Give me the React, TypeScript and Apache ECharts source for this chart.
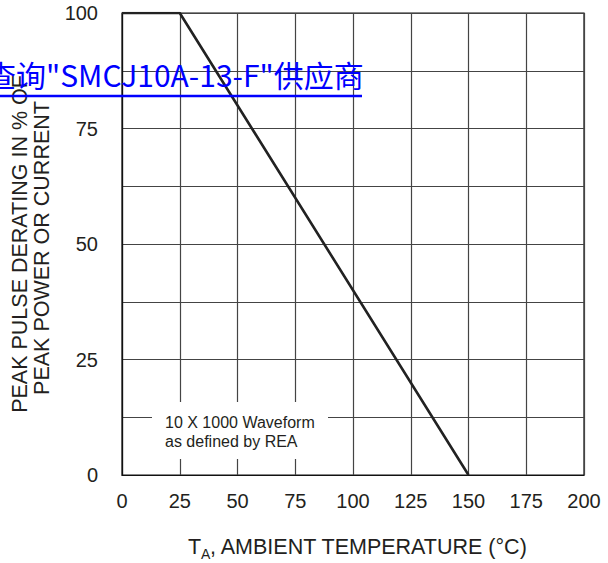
import React, { useEffect, useRef } from "react";
import * as echarts from "echarts";

const xTicks = [0, 25, 50, 75, 100, 125, 150, 175, 200];
const yTicks = [0, 25, 50, 75, 100];
const curveX = [0, 25, 150];
const curveY = [100, 100, 0];
const yTitleLines = ["PEAK PULSE DERATING IN % OF", "PEAK POWER OR CURRENT"];
const xTitleMain = "T";
const xTitleSub = "A";
const xTitleRest = ", AMBIENT TEMPERATURE (\u00B0C)";
const noteLines = ["10 X 1000 Waveform", "as defined by REA"];
const linkText = "查询\"SMCJ10A-13-F\"供应商";

const TXT = "#231f20";
const FONT = "Liberation Sans, Arial, sans-serif";

export default function App() {
  const ref = useRef<HTMLDivElement>(null);
  useEffect(() => {
    document.body.style.margin = "0";
    const chart = echarts.init(ref.current!, null, { renderer: "svg" });
    const gl = { left: 122, top: 13, width: 462, height: 462 };
    chart.setOption({
      animation: false,
      backgroundColor: "#ffffff",
      grid: { ...gl, show: true, borderColor: "#111", borderWidth: 1.2, backgroundColor: "transparent" },
      xAxis: {
        type: "value",
        min: xTicks[0],
        max: xTicks[xTicks.length - 1],
        interval: 25,
        axisLine: { show: true, lineStyle: { color: "#111", width: 1.2 } },
        axisTick: { show: false },
        axisLabel: { color: TXT, fontSize: 20, fontFamily: FONT, margin: 16 },
        splitLine: { show: true, lineStyle: { color: "#444", width: 1.2 } },
      },
      yAxis: {
        type: "value",
        min: 0,
        max: 100,
        interval: 12.5,
        axisLine: { show: true, lineStyle: { color: "#111", width: 1.2 } },
        axisTick: { show: false },
        axisLabel: {
          color: TXT,
          fontSize: 20,
          fontFamily: FONT,
          margin: 24,
          formatter: (v: number) => (yTicks.indexOf(v) >= 0 ? String(v) : ""),
        },
        splitLine: { show: true, lineStyle: { color: "#444", width: 1.2 } },
      },
      series: [
        {
          type: "line",
          data: curveX.map((x, i) => [x, curveY[i]]),
          symbol: "none",
          lineStyle: { color: "#222", width: 2.6 },
          z: 5,
        },
      ],
      graphic: [
        {
          type: "rect",
          shape: { x: 152, y: 402, width: 176, height: 57 },
          style: { fill: "#ffffff" },
          z: 100,
        },
        {
          type: "text",
          x: 165,
          y: 422,
          z: 101,
          style: { text: noteLines[0], fontSize: 16, fontFamily: FONT, fill: TXT, verticalAlign: "middle", align: "left" },
        },
        {
          type: "text",
          x: 165,
          y: 441,
          z: 101,
          style: { text: noteLines[1], fontSize: 16, fontFamily: FONT, fill: TXT, verticalAlign: "middle", align: "left" },
        },
        {
          type: "text",
          x: 20,
          y: 244,
          rotation: Math.PI / 2,
          z: 50,
          style: { text: yTitleLines[0], fontSize: 21.5, fontFamily: FONT, fill: TXT, align: "center", verticalAlign: "middle" },
        },
        {
          type: "text",
          x: 42,
          y: 248,
          rotation: Math.PI / 2,
          z: 50,
          style: { text: yTitleLines[1], fontSize: 21.5, fontFamily: FONT, fill: TXT, align: "center", verticalAlign: "middle" },
        },
        {
          type: "text",
          x: 188,
          y: 547,
          z: 50,
          style: { text: xTitleMain, fontSize: 21.5, fontFamily: FONT, fill: TXT, align: "left", verticalAlign: "middle" },
        },
        {
          type: "text",
          x: 201,
          y: 554,
          z: 50,
          style: { text: xTitleSub, fontSize: 14, fontFamily: FONT, fill: TXT, align: "left", verticalAlign: "middle" },
        },
        {
          type: "text",
          x: 210,
          y: 547,
          z: 50,
          style: { text: xTitleRest, fontSize: 21.5, fontFamily: FONT, fill: TXT, align: "left", verticalAlign: "middle" },
        },
        {
          type: "text",
          x: -14,
          y: 74,
          z: 200,
          style: { text: linkText, fontSize: 30, fontFamily: "Noto Sans CJK SC", fill: "#0000ff", align: "left", verticalAlign: "middle" },
        },
        {
          type: "line",
          shape: { x1: 0, y1: 96, x2: 362, y2: 96 },
          style: { stroke: "#0000ff", lineWidth: 2.5 },
          z: 200,
        },
      ],
    });
    return () => chart.dispose();
  }, []);
  return <div ref={ref} style={{ position: "fixed", left: 0, top: 0, width: 608, height: 563 }} />;
}
